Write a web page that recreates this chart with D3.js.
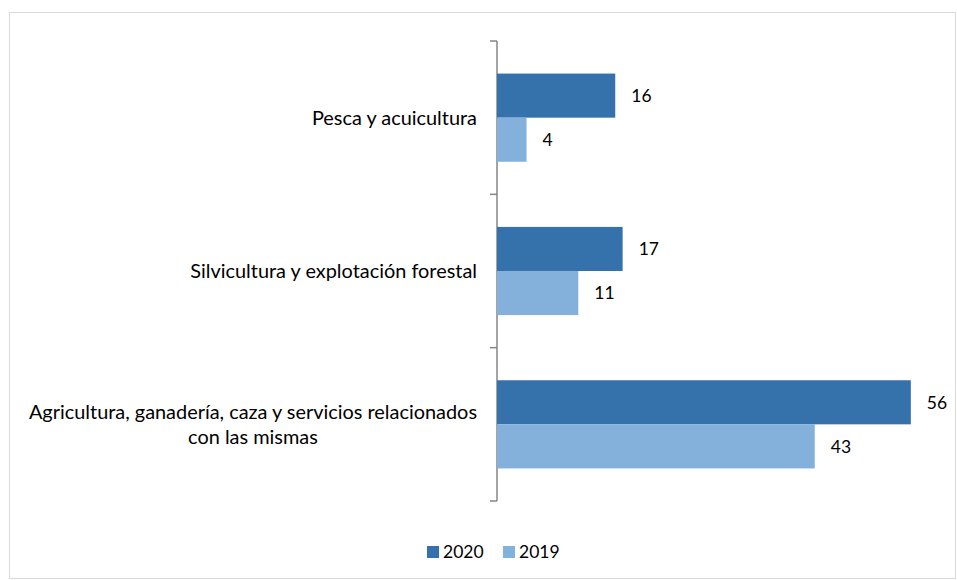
<!DOCTYPE html>
<html>
<head>
<meta charset="utf-8">
<script src="https://cdn.jsdelivr.net/npm/d3@7"></script>
<style>
  body { margin: 0; background: #fff; }
  svg { font-family: Lato, "Open Sans", sans-serif; }
</style>
</head>
<body>
<svg id="chart" width="957" height="580"></svg>
<script>
// data, top to bottom
var categories = [
  ["Pesca y acuicultura"],
  ["Silvicultura y explotación forestal"],
  ["Agricultura, ganadería, caza y servicios relacionados", "con las mismas"]
];
var seriesNames = ["2020", "2019"];
var values2020 = [16, 17, 56];
var values2019 = [4, 11, 43];
var colors = ["#3571AA", "#84B0DC"];

var svg = d3.select("#chart");

// chart frame
svg.append("rect")
  .attr("x", 9.5).attr("y", 12.5)
  .attr("width", 946).attr("height", 566)
  .style("fill", "none")
  .style("stroke", "#d9d9d9")
  .style("stroke-width", 1);

var axisX = 497;
var plotTop = 41, plotBottom = 501;

var x = d3.scaleLinear().domain([0, 60]).range([axisX, axisX + 443.4]);
var y = d3.scaleBand()
  .domain(d3.range(categories.length))
  .range([plotTop, plotBottom])
  .paddingInner(0.425).paddingOuter(0.2125);
var ySub = d3.scaleBand().domain([0, 1]).range([0, y.bandwidth()]);

// axis line and ticks at band boundaries
var step = (plotBottom - plotTop) / categories.length;
var boundaries = d3.range(categories.length + 1).map(function(i) { return plotTop + i * step; });

svg.append("line")
  .attr("x1", axisX).attr("x2", axisX)
  .attr("y1", plotTop).attr("y2", plotBottom)
  .style("stroke", "#868686")
  .style("stroke-width", 1.5);

svg.selectAll(".tick")
  .data(boundaries)
  .enter().append("line")
  .attr("class", "tick")
  .attr("x1", axisX - 7).attr("x2", axisX)
  .attr("y1", function(d) { return d; })
  .attr("y2", function(d) { return d; })
  .style("stroke", "#868686")
  .style("stroke-width", 1.5);

var series = [values2020, values2019];

series.forEach(function(vals, s) {
  svg.selectAll(".bar" + s)
    .data(vals)
    .enter().append("rect")
    .attr("class", "bar" + s)
    .attr("x", x(0))
    .attr("y", function(d, i) { return y(i) + ySub(s); })
    .attr("width", function(d) { return x(d) - x(0); })
    .attr("height", ySub.bandwidth())
    .style("fill", colors[s]);

  svg.selectAll(".val" + s)
    .data(vals)
    .enter().append("text")
    .attr("class", "val" + s)
    .attr("x", function(d) { return x(d) + 16; })
    .attr("y", function(d, i) { return y(i) + ySub(s) + ySub.bandwidth() / 2; })
    .attr("dy", "0.36em")
    .style("font-size", "17.5px")
    .style("fill", "#000")
    .text(function(d) { return d; });
});

// category labels, lines centred on each other, block right aligned
categories.forEach(function(lines, i) {
  var g = svg.append("g");
  var texts = lines.map(function(line) {
    return g.append("text")
      .style("font-size", "19.9px")
      .style("fill", "#000")
      .style("text-anchor", "middle")
      .text(line);
  });
  var maxW = d3.max(texts, function(t) { return t.node().getComputedTextLength(); });
  var cy = y(i) + y.bandwidth() / 2;
  var lh = 25;
  texts.forEach(function(t, j) {
    t.attr("x", 477 - maxW / 2)
      .attr("y", cy + (j - (lines.length - 1) / 2) * lh)
      .attr("dy", "0.35em");
  });
});

// legend
var legend = svg.append("g").attr("class", "legend");
var lx = [427, 503];
seriesNames.forEach(function(name, i) {
  legend.append("rect")
    .attr("x", lx[i]).attr("y", 546)
    .attr("width", 12).attr("height", 12)
    .style("fill", colors[i]);
  legend.append("text")
    .attr("x", lx[i] + 16).attr("y", 558)
    .style("font-size", "17.5px")
    .text(name);
});
</script>
</body>
</html>
